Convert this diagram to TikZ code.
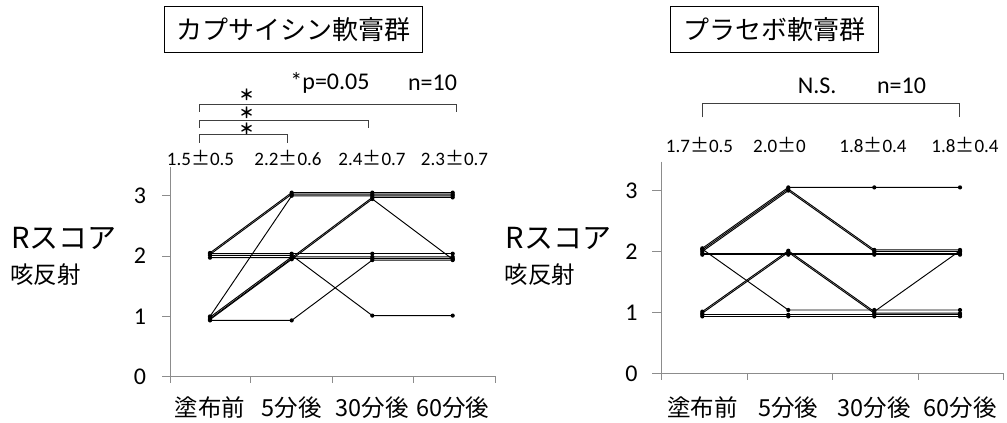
\documentclass[tikz,border=0pt]{standalone}
\usepackage{fontspec}
\setmainfont{Carlito}
\newfontfamily\jp{Noto Sans CJK JP}
\newcommand\fs[1]{\fontsize{#1}{#1}\selectfont}
\newcommand\pmj{{\jp ±}}
\begin{document}
\begin{tikzpicture}[x=1pt,y=-1pt,
  axis/.style={draw=black!45,line width=0.8pt},
  dl/.style={draw=black,line width=0.95pt,line join=round},
  brk/.style={draw=black!75,line width=0.8pt},
  titlebox/.style={draw=black,line width=0.9pt,inner sep=0pt,minimum width=#1,minimum height=45.6pt,font=\jp\fs{26}},
  stat/.style={font=\fs{19},inner sep=0pt},
  big/.style={font=\fs{24},inner sep=0pt},
  star/.style={font=\jp\bfseries\fs{15},inner sep=0pt,anchor=base,text height=11pt,text depth=0pt},
  cat/.style={font=\jp\fs{23.5},inner sep=0pt},
  tickl/.style={font=\fs{24},inner sep=0pt},
  ylab/.style={font=\jp\fs{29},inner sep=0pt,anchor=west},
  ylab2/.style={font=\jp\fs{23.5},inner sep=0pt,anchor=west}]
\useasboundingbox (0,0) rectangle (1007,423);

% ================= LEFT CHART =================
\node[titlebox=258.7pt] (t1) at (293.3,29.5) {カプサイシン軟膏群};
\node[big] (p1) at (330,83) {*p=0.05};
\node[big] (n1) at (432.5,83) {n=10};
% brackets
\draw[brk] (199.3,111.7) -- (199.3,104.3) -- (456,104.3) -- (456,111.7);
\draw[brk] (199.3,127.7) -- (199.3,120.7) -- (368.3,120.7) -- (368.3,127.7);
\draw[brk] (199.3,142.7) -- (199.3,134.3) -- (287.3,134.3) -- (287.3,142.7);
\node[star] (s1) at (246.7,100.9) {＊};
\node[star] (s2) at (246.7,118.1) {＊};
\node[star] (s3) at (246.7,134.0) {＊};
% stats
\node[stat] (m1) at (200.5,158) {1.5\pmj0.5};
\node[stat] (m2) at (288,158) {2.2\pmj0.6};
\node[stat] (m3) at (372,158) {2.4\pmj0.7};
\node[stat] (m4) at (454.5,158) {2.3\pmj0.7};
% axes
\draw[axis] (170.7,167) -- (170.7,383.4);
\draw[axis] (162,376.7) -- (495.7,376.7);
\foreach \xx in {250.7,332.7,413.3,495.7} \draw[axis] (\xx,376.7) -- (\xx,383.4);
\foreach \v in {0,1,2,3} {
  \draw[axis] (162,{376.7-60.3*\v}) -- (170.7,{376.7-60.3*\v});
  \node[tickl] at (140,{376.7-60.3*\v}) {\v};
}
\node[ylab] (r1) at (11,238) {Rスコア};
\node[ylab2] (k1) at (10,275) {咳反射};
\node[cat] at (210,408) {塗布前};
\node[cat] at (291.7,408) {5分後};
\node[cat] at (372.3,408) {30分後};
\node[cat] at (452.7,408) {60分後};
% data
\foreach \o/\a/\b/\c/\d in {-4/2/3/3/3, -2/2/3/3/3, 0/1/3/3/3, 2/2/2/3/3, 4/1/2/3/2,
   -3/2/2/2/2, -1/2/2/1/1, 1/1/2/2/2, 3/1/2/2/2, 5/1/1/2/2} {
  \draw[dl] (210,{376.7-60.3*\a+\o*0.8}) -- (291.7,{376.7-60.3*\b+\o*0.8})
     -- (372.3,{376.7-60.3*\c+\o*0.8}) -- (452.7,{376.7-60.3*\d+\o*0.8});
  \fill (210,{376.7-60.3*\a+\o*0.8}) circle (2.1);
  \fill (291.7,{376.7-60.3*\b+\o*0.8}) circle (2.1);
  \fill (372.3,{376.7-60.3*\c+\o*0.8}) circle (2.1);
  \fill (452.7,{376.7-60.3*\d+\o*0.8}) circle (2.1);
}

% ================= RIGHT CHART =================
\node[titlebox=207.6pt] (t2) at (774.5,29.5) {プラセボ軟膏群};
\node[big] (ns) at (817.2,86) {N.S.};
\node[big] (n2) at (901.5,86) {n=10};
\draw[brk] (702.3,117.3) -- (702.3,103.3) -- (959.3,103.3) -- (959.3,117.3);
\node[stat] (q1) at (699.5,145) {1.7\pmj0.5};
\node[stat] (q2) at (779.5,145) {2.0\pmj0};
\node[stat] (q3) at (873,145) {1.8\pmj0.4};
\node[stat] (q4) at (965,145) {1.8\pmj0.4};
\draw[axis] (661.7,161.7) -- (661.7,380);
\draw[axis] (652.3,373.3) -- (1003.3,373.3);
\foreach \xx in {747.3,832.7,918.3,1003.3} \draw[axis] (\xx,373.3) -- (\xx,380);
\foreach \v in {0,1,2,3} {
  \draw[axis] (652.3,{373.3-60.9*\v}) -- (661.7,{373.3-60.9*\v});
  \node[tickl] at (631.5,{373.3-60.9*\v}) {\v};
}
\node[ylab] (r2) at (505.5,238) {Rスコア};
\node[ylab2] (k2) at (504.5,275) {咳反射};
\node[cat] at (702.3,408) {塗布前};
\node[cat] at (788.3,408) {5分後};
\node[cat] at (874.3,408) {30分後};
\node[cat] at (960,408) {60分後};
\foreach \o/\a/\b/\c/\d in {-4/2/3/3/3, -2/2/3/2/2, 0/2/3/2/2, 2/2/2/2/2, 4/2/2/2/2,
   -3/2/1/1/1, -1/1/2/1/2, 1/1/2/1/1, 3/1/1/1/1, 5/1/1/1/1} {
  \draw[dl] (702.3,{373.3-60.9*\a+\o*0.8}) -- (788.3,{373.3-60.9*\b+\o*0.8})
     -- (874.3,{373.3-60.9*\c+\o*0.8}) -- (960,{373.3-60.9*\d+\o*0.8});
  \fill (702.3,{373.3-60.9*\a+\o*0.8}) circle (2.1);
  \fill (788.3,{373.3-60.9*\b+\o*0.8}) circle (2.1);
  \fill (874.3,{373.3-60.9*\c+\o*0.8}) circle (2.1);
  \fill (960,{373.3-60.9*\d+\o*0.8}) circle (2.1);
}
\end{tikzpicture}
\end{document}
